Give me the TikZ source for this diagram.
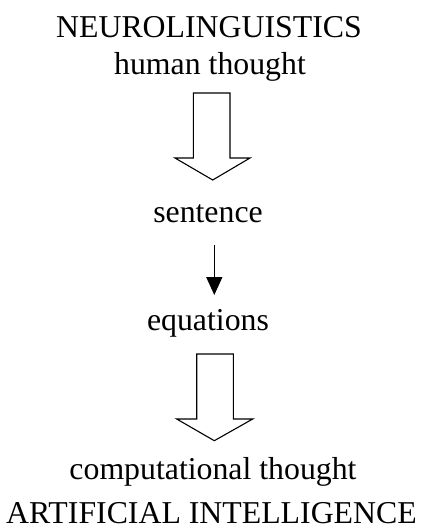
\documentclass[tikz,border=0pt]{standalone}
\usepackage{fontspec}
\setmainfont{Liberation Serif}
\usetikzlibrary{arrows.meta,calc}
\begin{document}
\begin{tikzpicture}[x=1pt,y=-1pt,
  lbl/.style={anchor=base,inner sep=0pt,font=\fontsize{31.8}{38}\selectfont},
  blockarrow/.style={draw=black,line width=1.1pt,line join=miter,fill=white},
  thinarrow/.style={draw=black,line width=1.4pt,-{Triangle[width=16pt,length=18pt]}}]
\useasboundingbox (0,0) rectangle (422,530);
\node[lbl] (neuro) at (209,37) {NEUROLINGUISTICS};
\node[lbl] (human) at (210,74) {human thought};
\node[lbl] (sentence) at (208,222) {sentence};
\node[lbl] (equations) at (208,330) {equations};
\node[lbl] (comp) at (213,479) {computational thought};
\node[lbl] (ai) at (211.5,523) {ARTIFICIAL INTELLIGENCE};
% block arrow 1
\draw[blockarrow] (193.3,93) -- (230,93) -- (230,158) -- (250,158) -- (212.7,180) -- (175,158) -- (193.3,158) -- cycle;
% thin arrow
\coordinate (s1) at (214.3,245);
\coordinate (s2) at (214.3,295);
\draw[thinarrow] (s1) -- (s2);
% block arrow 2
\draw[blockarrow] (196.7,354) -- (233.3,354) -- (233.3,419) -- (252.7,419) -- (214.3,440.7) -- (176.7,419) -- (196.7,419) -- cycle;
\end{tikzpicture}
\end{document}
